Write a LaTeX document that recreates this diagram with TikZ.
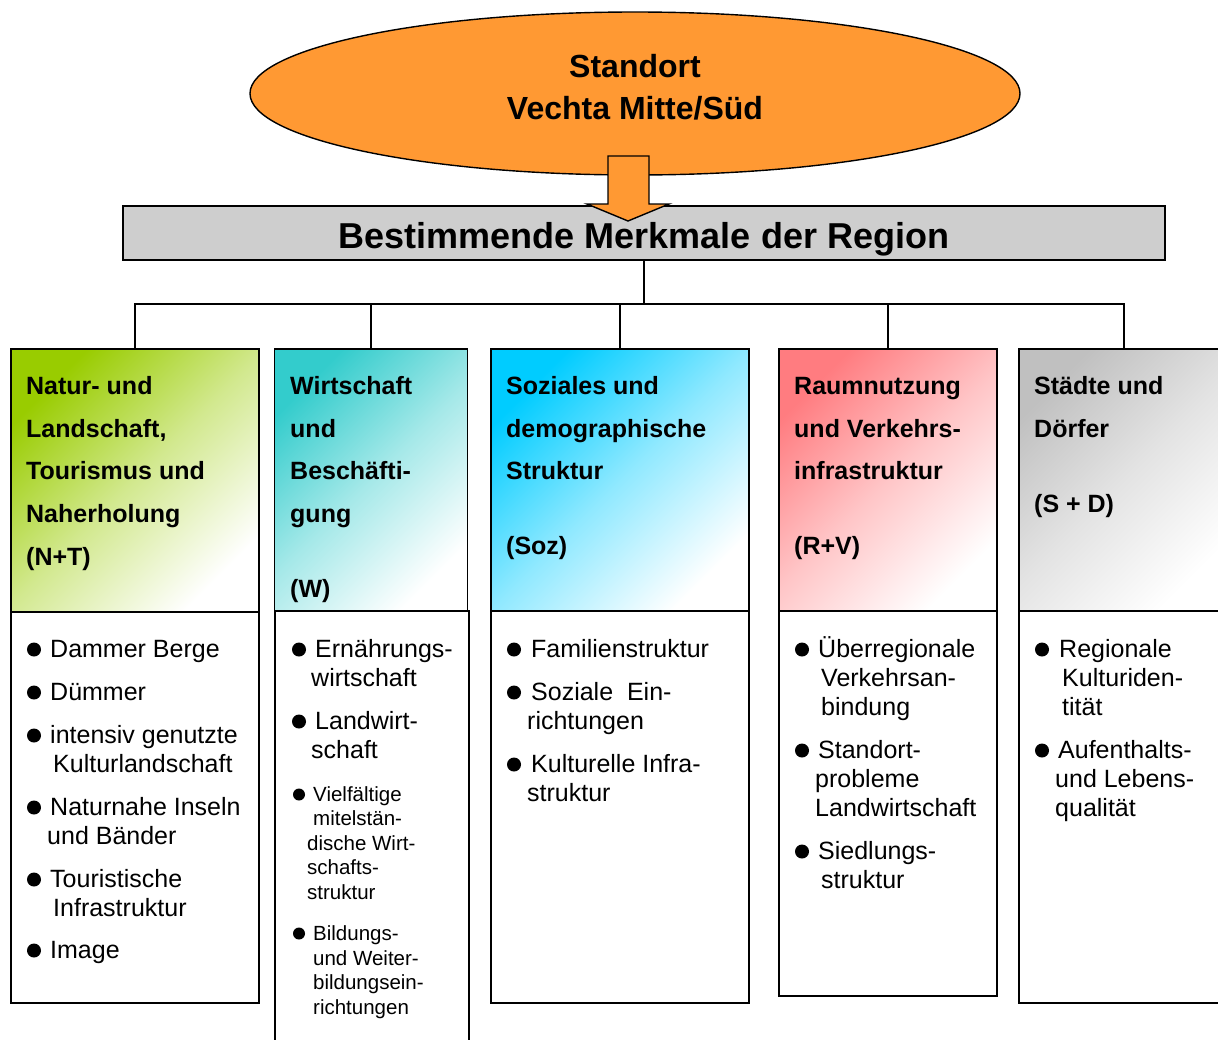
\documentclass[tikz,border=0pt]{standalone}
\usepackage{fontspec}
\setmainfont{Liberation Sans}
\usetikzlibrary{shapes.geometric}

\definecolor{siteOrange}{RGB}{255,153,51}
\definecolor{bannerGray}{RGB}{206,206,206}
\definecolor{natGreen}{RGB}{153,204,0}
\definecolor{wirtTeal}{RGB}{51,204,204}
\definecolor{sozCyan}{RGB}{0,204,255}
\definecolor{raumRose}{RGB}{255,124,128}
\definecolor{stadtGray}{RGB}{192,192,192}

\tikzset{
  headBox/.style={rectangle, draw=black, line width=1.6pt, top color=#1, bottom color=white, middle color=#1!44, shading angle=45},
  listBox/.style={rectangle, draw=black, line width=1.6pt, fill=white},
  treeLine/.style={line width=1.8pt},
  siteText/.style={anchor=base, inner sep=0pt, font=\bfseries\fontsize{32}{36}\selectfont},
  headText/.style={anchor=base west, inner sep=0pt, font=\bfseries\fontsize{25}{30}\selectfont},
  bodyText/.style={anchor=base west, inner sep=0pt, font=\fontsize{25}{30}\selectfont},
  smallText/.style={anchor=base west, inner sep=0pt, font=\fontsize{20.5}{24}\selectfont}
}

\begin{document}
\begin{tikzpicture}[x=1pt, y=-1pt]
\useasboundingbox (0,0) rectangle (1218,1039);

% site and banner
\node[ellipse, draw=black, fill=siteOrange, line width=1.4pt, minimum width=770, minimum height=163, inner sep=0pt](siteEllipse) at (635,93.5){};
\node[siteText](siteLine1) at (635,77){Standort};
\node[siteText](siteLine2) at (635,119){Vechta Mitte/Süd};

\node[rectangle, draw=black, fill=bannerGray, line width=1.6pt, minimum width=1042, minimum height=54](bannerBox) at (644,233){};
\node[anchor=base, inner sep=0pt, font=\bfseries\fontsize{36}{40}\selectfont](bannerLabel) at (644,248){Bestimmende Merkmale der Region};

\draw[fill=siteOrange, line width=1.4pt] (608,156) -- (649,156) -- (649,204) -- (669,204) -- (628,221) -- (587,204) -- (608,204) -- cycle;

% column boxes
\node[headBox=natGreen, minimum width=248, minimum height=263](headNT) at (135,480.5){};
\node[listBox, minimum width=248, minimum height=391](listNT) at (135,807.5){};
\node[headBox=wirtTeal, minimum width=193, minimum height=262](headW) at (371,480){};
\node[listBox, minimum width=194, minimum height=449](listW) at (372,835.5){};
\node[headBox=sozCyan, minimum width=258, minimum height=262](headSoz) at (620,480){};
\node[listBox, minimum width=258, minimum height=392](listSoz) at (620,807){};
\node[headBox=raumRose, minimum width=218, minimum height=262](headRV) at (888,480){};
\node[listBox, minimum width=218, minimum height=385](listRV) at (888,803.5){};
\node[headBox=stadtGray, minimum width=210, minimum height=262](headSD) at (1124,480){};
\node[listBox, minimum width=210, minimum height=392](listSD) at (1124,807){};

% tree
\coordinate (busPoint) at (644,304);
\draw[treeLine] (bannerBox.south) -- (busPoint);
\foreach \col in {headNT, headW, headSoz, headRV, headSD}
  \draw[treeLine] (busPoint) -| (\col.north);

% headings
\node[headText](ntHead1) at (26,394){Natur- und};
\node[headText](ntHead2) at (26,437){Landschaft,};
\node[headText](ntHead3) at (26,479){Tourismus und};
\node[headText](ntHead4) at (26,522){Naherholung};
\node[headText](ntHead5) at (26,565){(N+T)};

\node[headText](wHead1) at (290,394){Wirtschaft};
\node[headText](wHead2) at (290,437){und};
\node[headText](wHead3) at (290,479){Beschäfti-};
\node[headText](wHead4) at (290,522){gung};
\node[headText](wHead5) at (290,597){(W)};

\node[headText](sozHead1) at (506,394){Soziales und};
\node[headText](sozHead2) at (506,437){demographische};
\node[headText](sozHead3) at (506,479){Struktur};
\node[headText](sozHead4) at (506,554){(Soz)};

\node[headText](rvHead1) at (794,394){Raumnutzung};
\node[headText](rvHead2) at (794,437){und Verkehrs-};
\node[headText](rvHead3) at (794,479){infrastruktur};
\node[headText](rvHead4) at (794,554){(R+V)};

\node[headText](sdHead1) at (1034,394){Städte und};
\node[headText](sdHead2) at (1034,437){Dörfer};
\node[headText](sdHead3) at (1034,512){(S + D)};

% bullets
\foreach \x/\y in {34/657, 34/700, 34/743, 34/815, 34/887, 34/958,
                   299/657, 299/729, 514/657, 514/700, 514/772,
                   802/657, 802/758, 802/859, 1042/657, 1042/758}
  \fill (\x,\y-7.5) circle (7);
\foreach \y in {801, 940}
  \fill (299,\y-6.5) circle (6);

% lists
\node[bodyText](ntItem1) at (50,657){Dammer Berge};
\node[bodyText](ntItem2) at (50,700){Dümmer};
\node[bodyText](ntItem3a) at (50,743){intensiv genutzte};
\node[bodyText](ntItem3b) at (53,772){Kulturlandschaft};
\node[bodyText](ntItem4a) at (50,815){Naturnahe Inseln};
\node[bodyText](ntItem4b) at (47,844){und Bänder};
\node[bodyText](ntItem5a) at (50,887){Touristische};
\node[bodyText](ntItem5b) at (53,916){Infrastruktur};
\node[bodyText](ntItem6) at (50,958){Image};

\node[bodyText](wItem1a) at (315,657){Ernährungs-};
\node[bodyText](wItem1b) at (311,686){wirtschaft};
\node[bodyText](wItem2a) at (315,729){Landwirt-};
\node[bodyText](wItem2b) at (311,758){schaft};
\node[smallText](wItem3a) at (313,801){Vielfältige};
\node[smallText](wItem3b) at (313,825){mitelstän-};
\node[smallText](wItem3c) at (307,850){dische Wirt-};
\node[smallText](wItem3d) at (307,874){schafts-};
\node[smallText](wItem3e) at (307,899){struktur};
\node[smallText](wItem4a) at (313,940){Bildungs-};
\node[smallText](wItem4b) at (313,965){und Weiter-};
\node[smallText](wItem4c) at (313,989){bildungsein-};
\node[smallText](wItem4d) at (313,1014){richtungen};

\node[bodyText](sozItem1) at (531,657){Familienstruktur};
\node[bodyText](sozItem2a) at (531,700){Soziale\ \ Ein-};
\node[bodyText](sozItem2b) at (527,729){richtungen};
\node[bodyText](sozItem3a) at (531,772){Kulturelle Infra-};
\node[bodyText](sozItem3b) at (527,801){struktur};

\node[bodyText](rvItem1a) at (818,657){Überregionale};
\node[bodyText](rvItem1b) at (821,686){Verkehrsan-};
\node[bodyText](rvItem1c) at (821,715){bindung};
\node[bodyText](rvItem2a) at (818,758){Standort-};
\node[bodyText](rvItem2b) at (815,787){probleme};
\node[bodyText](rvItem2c) at (815,816){Landwirtschaft};
\node[bodyText](rvItem3a) at (818,859){Siedlungs-};
\node[bodyText](rvItem3b) at (821,888){struktur};

\node[bodyText](sdItem1a) at (1059,657){Regionale};
\node[bodyText](sdItem1b) at (1062,686){Kulturiden-};
\node[bodyText](sdItem1c) at (1062,715){tität};
\node[bodyText](sdItem2a) at (1058,758){Aufenthalts-};
\node[bodyText](sdItem2b) at (1055,787){und Lebens-};
\node[bodyText](sdItem2c) at (1055,816){qualität};
\end{tikzpicture}
\end{document}
